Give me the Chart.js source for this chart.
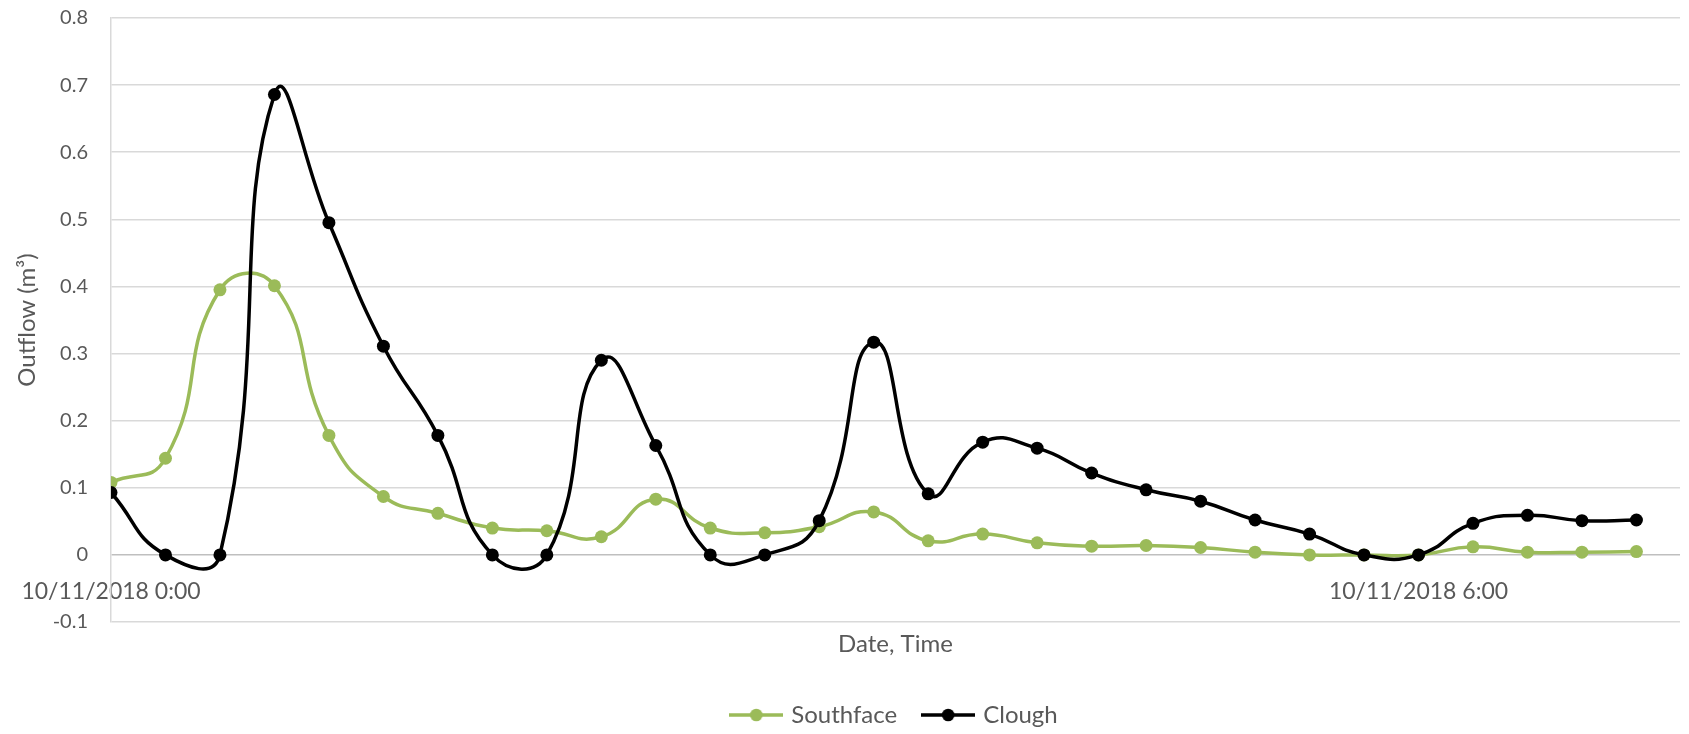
<!DOCTYPE html>
<html>
<head>
<meta charset="utf-8">
<script src="https://cdn.jsdelivr.net/npm/chart.js@4/dist/chart.umd.min.js"></script>
<style>
  html, body { margin: 0; padding: 0; background: #ffffff; }
  #wrap { width: 1689px; height: 734px; position: relative; }
</style>
</head>
<body>
<div id="wrap"><canvas id="chart"></canvas></div>
<script>
// Outflow readings every 15 minutes on 10/11/2018
const dateLabel = '10/11/2018';
const times = ['0:00', '0:15', '0:30', '0:45', '1:00', '1:15', '1:30', '1:45',
               '2:00', '2:15', '2:30', '2:45', '3:00', '3:15', '3:30', '3:45',
               '4:00', '4:15', '4:30', '4:45', '5:00', '5:15', '5:30', '5:45',
               '6:00', '6:15', '6:30', '6:45', '7:00'];
const labelledTimes = ['0:00', '6:00'];

const southface = [0.108, 0.144, 0.395, 0.401, 0.178, 0.087, 0.062, 0.040, 0.036, 0.027,
                   0.083, 0.040, 0.033, 0.042, 0.064, 0.021, 0.031, 0.018, 0.013, 0.014,
                   0.011, 0.004, 0.000, 0.000, 0.000, 0.012, 0.004, 0.004, 0.005];
const clough = [0.093, 0.000, 0.000, 0.686, 0.495, 0.311, 0.178, 0.000, 0.000, 0.290,
                0.163, 0.000, 0.000, 0.051, 0.317, 0.091, 0.168, 0.159, 0.122, 0.097,
                0.080, 0.052, 0.031, 0.000, 0.000, 0.047, 0.059, 0.051, 0.052];

const yMin = -0.1, yMax = 0.8, yStep = 0.1;

const FONT = 'Lato, "Open Sans", sans-serif';
const TEXT = '#595959';
const GREEN = '#9BBB59';
const BLACK = '#000000';

const toPoints = arr => arr.map((v, i) => ({ x: i, y: v }));

// Legend marker: a short line with a dot in the middle
function legendMarker(color) {
  const c = document.createElement('canvas');
  c.width = 54; c.height = 16;
  const g = c.getContext('2d');
  g.strokeStyle = color; g.lineWidth = 3.5;
  g.beginPath(); g.moveTo(0, 8); g.lineTo(54, 8); g.stroke();
  g.fillStyle = color;
  g.beginPath(); g.arc(27, 8, 6.3, 0, Math.PI * 2); g.fill();
  return c;
}
const markers = [legendMarker(GREEN), legendMarker(BLACK)];

const seriesStyle = color => ({
  borderColor: color,
  backgroundColor: color,
  pointBackgroundColor: color,
  pointBorderColor: color,
  borderWidth: 3.5,
  pointRadius: 6.5,
  pointBorderWidth: 0,
  tension: 0.5,
  fill: false
});

new Chart(document.getElementById('chart'), {
  type: 'line',
  data: {
    datasets: [
      Object.assign({ label: 'Southface', data: toPoints(southface), order: 2 }, seriesStyle(GREEN)),
      Object.assign({ label: 'Clough', data: toPoints(clough), order: 1 }, seriesStyle(BLACK))
    ]
  },
  options: {
    responsive: true,
    maintainAspectRatio: false,
    animation: false,
    layout: { padding: { left: 0, right: 9, top: 18, bottom: -3 } },
    plugins: {
      tooltip: { enabled: false },
      legend: {
        position: 'bottom',
        fullSize: false,
        labels: {
          usePointStyle: true,
          pointStyleWidth: 46,
          padding: 28,
          color: TEXT,
          font: { family: FONT, size: 24 },
          generateLabels(chart) {
            const items = Chart.defaults.plugins.legend.labels.generateLabels(chart);
            items.sort((a, b) => a.datasetIndex - b.datasetIndex);
            items.forEach(it => { it.pointStyle = markers[it.datasetIndex]; });
            return items;
          }
        }
      }
    },
    scales: {
      x: {
        type: 'linear',
        min: 0,
        max: 28.8,
        grid: { display: false, drawTicks: false },
        border: { display: false },
        afterBuildTicks(scale) {
          scale.ticks = labelledTimes.map(t => ({ value: times.indexOf(t) }));
        },
        afterFit(scale) {
          // date labels sit just under the zero line, inside the plot
          scale.height = 53;
          scale.paddingLeft = 0;
          scale.paddingRight = 0;
        },
        ticks: {
          autoSkip: false,
          maxRotation: 0,
          mirror: true,
          padding: 16.8,
          color: TEXT,
          font: { family: FONT, size: 23 },
          callback: v => dateLabel + ' ' + times[v]
        },
        title: {
          display: true,
          text: 'Date, Time',
          color: TEXT,
          font: { family: FONT, size: 24 },
          padding: { top: 0, bottom: 16.6 }
        }
      },
      y: {
        min: yMin,
        max: yMax,
        afterFit(scale) {
          scale.width = 111;
          scale.paddingTop = 0;
          scale.paddingBottom = 0;
        },
        ticks: {
          stepSize: yStep,
          padding: 23,
          color: TEXT,
          font: { family: FONT, size: 20 },
          callback: v => String(Math.round(v * 10) / 10)
        },
        grid: {
          drawTicks: false,
          lineWidth: 1.5,
          color: ctx => (ctx.tick && Math.abs(ctx.tick.value) < 1e-9) ? '#bfbfbf' : '#d9d9d9'
        },
        border: { color: '#d9d9d9', width: 1.5 },
        title: {
          display: true,
          text: 'Outflow (m³)',
          color: TEXT,
          font: { family: FONT, size: 24 },
          padding: { top: 12.6, bottom: 0 }
        }
      }
    }
  }
});
</script>
</body>
</html>
